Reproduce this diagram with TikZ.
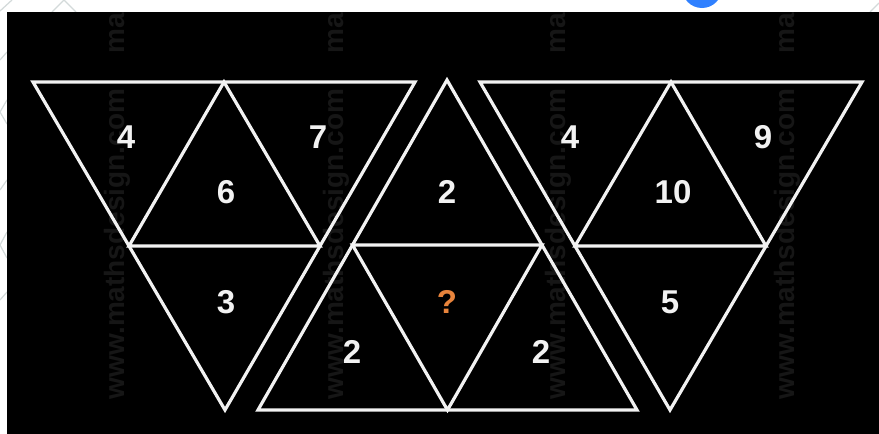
\documentclass[tikz,border=0pt]{standalone}
\usepackage{fontspec}
\setmainfont{Liberation Sans}
\usetikzlibrary{calc}
\definecolor{wm}{HTML}{161616}
\definecolor{edge}{HTML}{F2F2F2}
\definecolor{qcol}{HTML}{E8843C}
\definecolor{blob}{HTML}{2F80FF}
\definecolor{pat}{HTML}{D3DADA}
\begin{document}
\begin{tikzpicture}[x=1pt,y=-1pt,
  tri/.style={draw=edge, line width=3.2pt, line join=miter},
  num/.style={text=edge, font=\fontsize{33}{33}\selectfont\bfseries, inner sep=0pt},
  wmark/.style={text=wm, font=\fontsize{28}{28}\selectfont\bfseries, rotate=90, inner sep=0pt},
  patline/.style={draw=pat, line width=1.2pt}]
\useasboundingbox (0,0) rectangle (879,434);
\clip (0,0) rectangle (879,434);
\fill[white] (0,0) rectangle (879,434);
% light page pattern in the white margins
\draw[patline] (0,11) -- (12,0);
\draw[patline] (52,12) -- (64,0) -- (76,12);
\draw[patline] (0,60) -- (7,52);
\draw[patline] (7,100) -- (0,112) -- (7,124);
\draw[patline] (0,190) -- (7,180);
\draw[patline] (7,232) -- (0,245) -- (7,258);
\draw[patline] (0,300) -- (7,292);
\draw[patline] (870,12) -- (879,3);
\fill[blob] (702,-12) circle[radius=20];
\fill[black] (7,12) rectangle (879,434);
% watermarks
\foreach \wx/\nm in {117/a,336/b,558/c,787/d}{
  \node[wmark] (wm\nm) at (\wx,244) {www.mathsdesign.com};
  \node[wmark, anchor=west] (wt\nm) at (\wx,54) {ma};
}
% left triangle
\coordinate (L1) at (33,82);
\coordinate (L2) at (415,82);
\coordinate (L3) at (225,410);
\coordinate (L12) at ($(L1)!0.5!(L2)$);
\coordinate (L13) at ($(L1)!0.5!(L3)$);
\coordinate (L23) at ($(L2)!0.5!(L3)$);
\draw[tri] (L1) -- (L2) -- (L3) -- cycle;
\draw[tri] (L12) -- (L13) -- (L23) -- cycle;
% middle triangle
\coordinate (M1) at (258,410);
\coordinate (M2) at (637,410);
\coordinate (M3) at (447,80);
\coordinate (M12) at ($(M1)!0.5!(M2)$);
\coordinate (M13) at ($(M1)!0.5!(M3)$);
\coordinate (M23) at ($(M2)!0.5!(M3)$);
\draw[tri] (M1) -- (M2) -- (M3) -- cycle;
\draw[tri] (M12) -- (M13) -- (M23) -- cycle;
% right triangle
\coordinate (R1) at (480,82);
\coordinate (R2) at (862,82);
\coordinate (R3) at (670,410);
\coordinate (R12) at ($(R1)!0.5!(R2)$);
\coordinate (R13) at ($(R1)!0.5!(R3)$);
\coordinate (R23) at ($(R2)!0.5!(R3)$);
\draw[tri] (R1) -- (R2) -- (R3) -- cycle;
\draw[tri] (R12) -- (R13) -- (R23) -- cycle;
% numbers
\node[num] (la) at (126,137) {4};
\node[num] (lb) at (318,137) {7};
\node[num] (lc) at (226,192) {6};
\node[num] (ld) at (226,302) {3};
\node[num] (ma) at (447,192) {2};
\node[num, text=qcol] (mb) at (447,302) {?};
\node[num] (mc) at (352,352) {2};
\node[num] (md) at (541,352) {2};
\node[num] (ra) at (570,137) {4};
\node[num] (rb) at (763,137) {9};
\node[num] (rc) at (673,192) {10};
\node[num] (rd) at (670,302) {5};
\end{tikzpicture}
\end{document}
